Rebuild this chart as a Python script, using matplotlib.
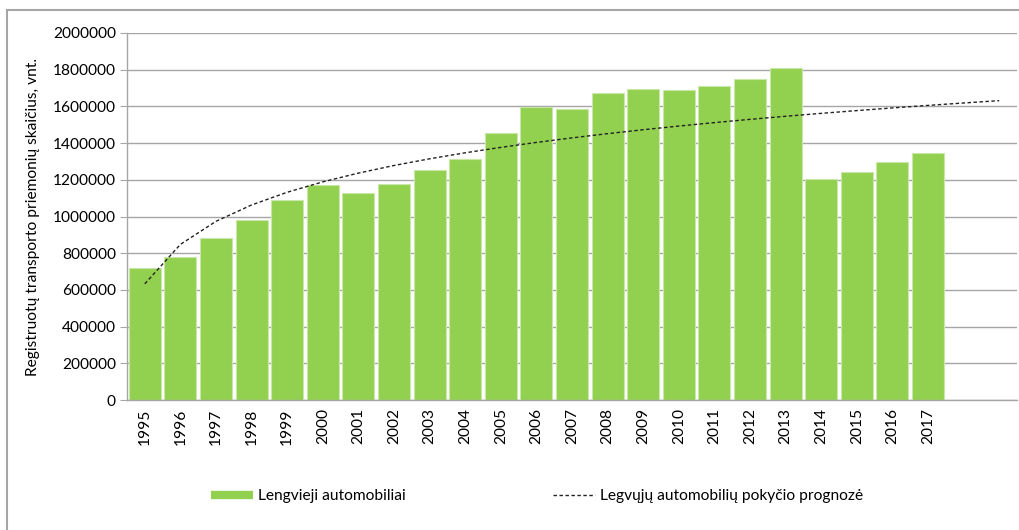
import numpy as np
import matplotlib.pyplot as plt
from matplotlib.lines import Line2D

plt.rcParams['font.family'] = ['Lato', 'DejaVu Sans']

# Lengvųjų automobilių skaičius pagal metus
metai = [1995, 1996, 1997, 1998, 1999, 2000, 2001, 2002, 2003, 2004, 2005, 2006,
         2007, 2008, 2009, 2010, 2011, 2012, 2013, 2014, 2015, 2016, 2017]
automobiliai = [720000, 782000, 882000, 982000, 1088000, 1170000, 1130000, 1178000,
                1256000, 1316000, 1456000, 1595000, 1588000, 1671000, 1697000, 1691000,
                1713000, 1751000, 1808000, 1204000, 1242000, 1298000, 1346000]
prognozes_metai = 2  # logaritminė tendencija pratęsiama 2 metais į priekį

zalia = '#92D050'
pilka = '#A6A6A6'
sriftas = 11.2

fig = plt.figure(figsize=(10.2, 5.3), dpi=100)
ax = fig.add_axes([127 / 1020, 1 - 400 / 530, 890 / 1020, 367 / 530])

x = np.arange(len(metai))
ax.bar(x, automobiliai, width=0.9, color=zalia, edgecolor='#C9E8A8', linewidth=0.8, zorder=2)

# logaritminė tendencija (kaip Excel trendline)
t = np.arange(1, len(metai) + 1)
a, b = np.polyfit(np.log(t), automobiliai, 1)
t_visi = np.arange(1, len(metai) + prognozes_metai + 1)
ax.plot(t_visi - 1, a * np.log(t_visi) + b, color='#222222', linewidth=1.0,
        linestyle=(0, (2.5, 1.8)), zorder=3)

ax.set_xlim(-0.5, len(metai) + prognozes_metai - 0.5)
ax.set_ylim(0, 2000000)
ax.set_yticks(np.arange(0, 2000001, 200000))
ax.set_yticklabels([str(v) for v in range(0, 2000001, 200000)], fontsize=sriftas)
ax.set_xticks(x)
ax.set_xticklabels([str(m) for m in metai], rotation=90, fontsize=sriftas)
ax.tick_params(axis='x', length=0, pad=6)
ax.tick_params(axis='y', length=5, color=pilka, pad=3)
ax.grid(axis='y', color=pilka, linewidth=1, zorder=0)
ax.set_axisbelow(True)
for s in ['top', 'right']:
    ax.spines[s].set_visible(False)
for s in ['left', 'bottom']:
    ax.spines[s].set_color(pilka)
    ax.spines[s].set_linewidth(1)

ax.set_ylabel('Registruotų transporto priemonių skaičius, vnt.', fontsize=sriftas, labelpad=9)

rankenos = [Line2D([], [], color=zalia, linewidth=6, solid_capstyle='butt'),
            Line2D([], [], color='#222222', linewidth=1, linestyle=(0, (2.5, 1.8)))]
fig.legend(rankenos, ['Lengvieji automobiliai', 'Legvųjų automobilių pokyčio prognozė'],
           loc='center', bbox_to_anchor=(537 / 1020, 1 - 496 / 530), ncol=2,
           frameon=False, fontsize=sriftas, handlelength=2.7, handletextpad=0.3,
           columnspacing=9.5)

# rėmelis aplink diagramą
fig.add_artist(Line2D([7 / 1020, 7 / 1020], [0, 1 - 10 / 530], color=pilka, linewidth=1.5))
fig.add_artist(Line2D([7 / 1020, 1], [1 - 10 / 530, 1 - 10 / 530], color=pilka, linewidth=1.5))

fig.savefig('out.png', dpi=100)
